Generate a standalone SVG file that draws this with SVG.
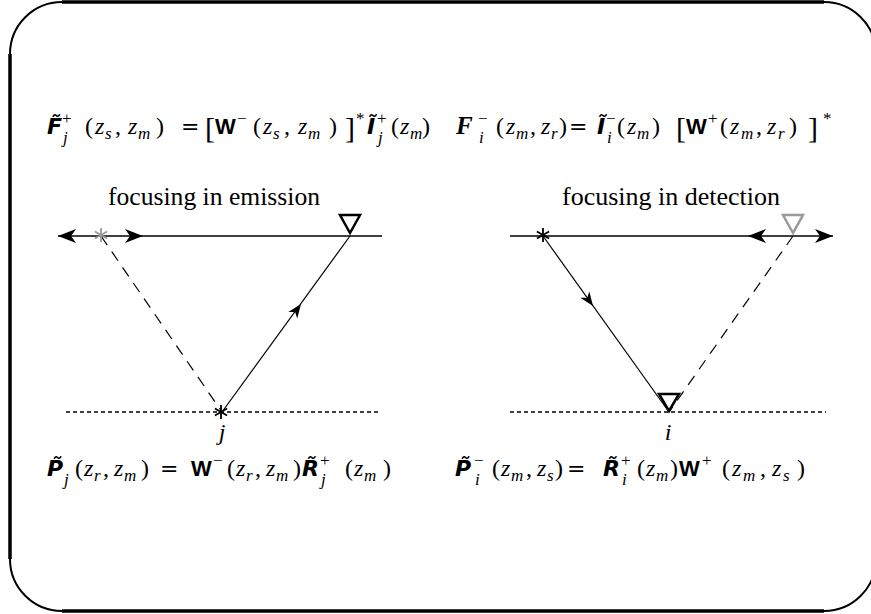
<svg xmlns="http://www.w3.org/2000/svg" width="871" height="614" viewBox="0 0 871 614">
<style>
.frame{fill:none;stroke:#000;stroke-width:2}
.frameT{fill:none;stroke:#000;stroke-width:3.5}
.ln{stroke:#000;stroke-width:1.6;fill:none}
.sl{stroke:#000;stroke-width:1.2;fill:none}
.dash{stroke:#000;stroke-width:1.2;fill:none;stroke-dasharray:11 8}
.dot{stroke:#000;stroke-width:1.5;fill:none;stroke-dasharray:4 3}
.ah{fill:#000}
.star{stroke-width:1.8;fill:none}
.tri{fill:none;stroke-width:2.5;stroke-linejoin:miter}
.lbl{font-family:"Liberation Serif",serif;font-size:25px;fill:#000}
.m{font-family:"Liberation Serif",serif;font-size:24px;fill:#000}
.i{font-style:italic}
.sc{font-size:17px}
.bt{font-family:"DejaVu Sans",sans-serif;font-weight:bold;font-style:italic;font-size:22px}
.bw{font-family:"Liberation Sans",sans-serif;font-weight:bold;font-size:22px}
.eqs{font-family:"DejaVu Serif",serif;font-size:22px}
.br{font-size:30px}
.bf{font-weight:bold;font-style:italic;font-size:25px}
</style>
<defs>
<path id="bigArrow" d="M0,0 L-18,-7 L-13,0 L-18,7 Z"/>
<path id="smallArrow" d="M0,0 L-14,-5.5 L-10,0 L-14,5.5 Z"/>
<g id="astar"><line x1="0" y1="-7" x2="0" y2="7"/><line x1="-6.1" y1="-3.5" x2="6.1" y2="3.5"/><line x1="-6.1" y1="3.5" x2="6.1" y2="-3.5"/></g>
</defs>

<g id="frame">
<path class="frame" d="M10,54 A52,52 0 0 1 62,2 M824,2 A52,52 0 0 1 876,54 M876,559 A52,52 0 0 1 824,611 M62,611 A52,52 0 0 1 10,559"/>
<path class="frameT" d="M62,2 H824 M10,54 V559 M62,611 H824"/>
</g>

<g id="connectors">
<line class="ln" x1="58" y1="236" x2="382" y2="236"/>
<use href="#bigArrow" class="ah" transform="translate(58,236) rotate(180)"/>
<use href="#bigArrow" class="ah" transform="translate(143,236)"/>
<line class="dash" x1="101" y1="236" x2="222" y2="412"/>
<line class="sl" x1="222" y1="412" x2="350" y2="236"/>
<use href="#smallArrow" class="ah" transform="translate(301,304) rotate(-54)"/>
<line class="dot" x1="66" y1="412" x2="380" y2="412"/>

<line class="ln" x1="510" y1="236" x2="833" y2="236"/>
<use href="#bigArrow" class="ah" transform="translate(833,236)"/>
<use href="#bigArrow" class="ah" transform="translate(748,236) rotate(180)"/>
<line class="sl" x1="543" y1="236" x2="669" y2="412"/>
<use href="#smallArrow" class="ah" transform="translate(593,306) rotate(54.4)"/>
<line class="dash" x1="793" y1="236" x2="669" y2="412"/>
<line class="dot" x1="510" y1="412" x2="826" y2="412"/>
</g>

<g id="source-left-grey"><use href="#astar" class="star" stroke="#999" transform="translate(101,235)"/></g>
<g id="receiver-left"><path class="tri" stroke="#000" d="M340,215 H360 L350,233 Z"/></g>
<g id="point-j"><use href="#astar" class="star" stroke="#000" transform="translate(221,412)"/><text class="m i" x="222" y="440" text-anchor="middle">j</text></g>

<g id="source-right"><use href="#astar" class="star" stroke="#000" transform="translate(543,235)"/></g>
<g id="receiver-right-grey"><path class="tri" stroke="#999" stroke-width="3" d="M783,215 H803 L793,233 Z"/></g>
<g id="point-i"><path class="tri" stroke="#000" d="M659,394 H679 L669,411 Z"/><text class="m i" x="668" y="440" text-anchor="middle">i</text></g>

<g id="labels">
<text class="lbl" x="108" y="205" textLength="212" lengthAdjust="spacingAndGlyphs">focusing in emission</text>
<text class="lbl" x="562" y="205" textLength="218" lengthAdjust="spacingAndGlyphs">focusing in detection</text>
</g>

<g id="eq-top-left">
<text class="m"><tspan class="bt" x="47" y="134">F&#x303;</tspan><tspan class="sc" x="62" y="124">+</tspan><tspan class="sc i" x="63" y="143">j</tspan><tspan x="85" y="134">(</tspan><tspan class="i" x="95" y="134">z</tspan><tspan class="sc i" x="105" y="139">s</tspan><tspan x="115" y="134">,</tspan><tspan class="i" x="128" y="134">z</tspan><tspan class="sc i" x="138" y="139">m</tspan><tspan x="156" y="134">)</tspan><tspan class="eqs" x="181" y="134">=</tspan><tspan class="br" x="205" y="138">[</tspan><tspan class="bw" x="215" y="134">W</tspan><tspan class="sc" x="237" y="124">−</tspan><tspan x="253" y="134">(</tspan><tspan class="i" x="263" y="134">z</tspan><tspan class="sc i" x="273" y="139">s</tspan><tspan x="284" y="134">,</tspan><tspan class="i" x="298" y="134">z</tspan><tspan class="sc i" x="308" y="139">m</tspan><tspan x="329" y="134">)</tspan><tspan class="br" x="345" y="138">]</tspan><tspan class="sc" x="356" y="124">*</tspan><tspan class="bt" x="367" y="134">Ĩ</tspan><tspan class="sc" x="377" y="124">+</tspan><tspan class="sc i" x="378" y="143">j</tspan><tspan x="391" y="134">(</tspan><tspan class="i" x="400" y="134">z</tspan><tspan class="sc i" x="410" y="139">m</tspan><tspan x="422" y="134">)</tspan></text>
</g>

<g id="eq-top-right">
<text class="m"><tspan class="bf" x="456" y="134">F</tspan><tspan class="sc" x="478" y="124">−</tspan><tspan class="sc i" x="479" y="143">i</tspan><tspan x="496" y="134">(</tspan><tspan class="i" x="506" y="134">z</tspan><tspan class="sc i" x="516" y="139">m</tspan><tspan x="530" y="134">,</tspan><tspan class="i" x="541" y="134">z</tspan><tspan class="sc i" x="551" y="139">r</tspan><tspan x="559" y="134">)</tspan><tspan class="eqs" x="569" y="134">=</tspan><tspan class="bt" x="597" y="134">Ĩ</tspan><tspan class="sc" x="606" y="124">−</tspan><tspan class="sc i" x="607" y="143">i</tspan><tspan x="617" y="134">(</tspan><tspan class="i" x="627" y="134">z</tspan><tspan class="sc i" x="637" y="139">m</tspan><tspan x="652" y="134">)</tspan><tspan class="br" x="676" y="138">[</tspan><tspan class="bw" x="686" y="134">W</tspan><tspan class="sc" x="708" y="124">+</tspan><tspan x="720" y="134">(</tspan><tspan class="i" x="730" y="134">z</tspan><tspan class="sc i" x="741" y="139">m</tspan><tspan x="756" y="134">,</tspan><tspan class="i" x="767" y="134">z</tspan><tspan class="sc i" x="778" y="139">r</tspan><tspan x="789" y="134">)</tspan><tspan class="br" x="808" y="138">]</tspan><tspan class="sc" x="823" y="124">*</tspan></text>
</g>

<g id="eq-bottom-left">
<text class="m"><tspan class="bt" x="47" y="476">P&#x303;</tspan><tspan class="sc i" x="64" y="485">j</tspan><tspan x="75" y="476">(</tspan><tspan class="i" x="84" y="476">z</tspan><tspan class="sc i" x="94" y="481">r</tspan><tspan x="103" y="476">,</tspan><tspan class="i" x="114" y="476">z</tspan><tspan class="sc i" x="124" y="481">m</tspan><tspan x="141" y="476">)</tspan><tspan class="eqs" x="160" y="476">=</tspan><tspan class="bw" x="191" y="476">W</tspan><tspan class="sc" x="213" y="466">−</tspan><tspan x="227" y="476">(</tspan><tspan class="i" x="236" y="476">z</tspan><tspan class="sc i" x="246" y="481">r</tspan><tspan x="255" y="476">,</tspan><tspan class="i" x="266" y="476">z</tspan><tspan class="sc i" x="276" y="481">m</tspan><tspan x="293" y="476">)</tspan><tspan class="bt" x="302" y="476">R&#x303;</tspan><tspan class="sc" x="320" y="466">+</tspan><tspan class="sc i" x="321" y="485">j</tspan><tspan x="345" y="476">(</tspan><tspan class="i" x="354" y="476">z</tspan><tspan class="sc i" x="364" y="481">m</tspan><tspan x="383" y="476">)</tspan></text>
</g>

<g id="eq-bottom-right">
<text class="m"><tspan class="bt" x="455" y="476">P&#x303;</tspan><tspan class="sc" x="474" y="466">−</tspan><tspan class="sc i" x="475" y="485">i</tspan><tspan x="492" y="476">(</tspan><tspan class="i" x="501" y="476">z</tspan><tspan class="sc i" x="511" y="481">m</tspan><tspan x="526" y="476">,</tspan><tspan class="i" x="537" y="476">z</tspan><tspan class="sc i" x="547" y="481">s</tspan><tspan x="555" y="476">)</tspan><tspan class="eqs" x="567" y="476">=</tspan><tspan class="bt" x="603" y="476">R&#x303;</tspan><tspan class="sc" x="621" y="466">+</tspan><tspan class="sc i" x="622" y="485">i</tspan><tspan x="637" y="476">(</tspan><tspan class="i" x="646" y="476">z</tspan><tspan class="sc i" x="656" y="481">m</tspan><tspan x="670" y="476">)</tspan><tspan class="bw" x="679" y="476">W</tspan><tspan class="sc" x="702" y="466">+</tspan><tspan x="722" y="476">(</tspan><tspan class="i" x="732" y="476">z</tspan><tspan class="sc i" x="743" y="481">m</tspan><tspan x="760" y="476">,</tspan><tspan class="i" x="772" y="476">z</tspan><tspan class="sc i" x="783" y="481">s</tspan><tspan x="797" y="476">)</tspan></text>
</g>
</svg>
